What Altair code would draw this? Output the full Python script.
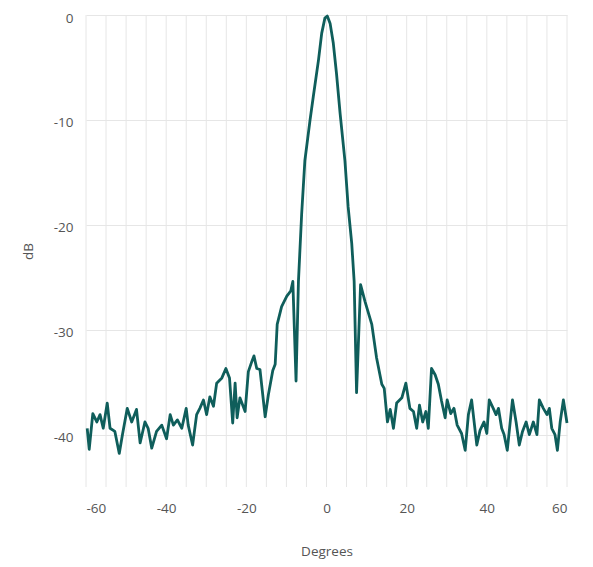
import altair as alt
import pandas as pd

degrees = [-59.7, -59.2, -58.3, -57.3, -56.5, -55.7, -54.7, -54.0, -52.8, -51.7, -50.9,
           -49.7, -48.6, -47.4, -46.5, -45.3, -44.5, -43.6, -42.4, -41.1, -39.9, -39.0,
           -38.2, -37.2, -36.1, -35.0, -34.5, -33.4, -32.4, -31.6, -30.7, -29.9, -29.1,
           -28.2, -27.4, -26.1, -25.1, -24.2, -23.4, -22.8, -22.3, -21.6, -20.3, -19.5,
           -18.6, -18.1, -17.4, -16.6, -15.3, -14.5, -13.4, -12.8, -12.3, -11.2, -9.9,
           -8.9, -8.4, -7.6, -7.0, -6.2, -5.4, -4.1, -3.3, -2.0, -1.2, -0.4, 0.2, 0.9,
           1.7, 2.5, 3.4, 4.6, 5.4, 6.3, 6.9, 7.5, 8.5, 9.6, 11.3, 12.5, 13.8, 14.4,
           15.2, 15.9, 16.7, 17.5, 18.8, 19.8, 20.8, 21.7, 22.5, 23.2, 24.0, 24.8, 25.4,
           26.2, 27.1, 27.9, 28.7, 29.6, 30.1, 31.0, 31.8, 32.6, 33.7, 34.6, 35.4, 36.2,
           37.5, 38.3, 39.3, 40.0, 40.6, 41.6, 42.3, 42.9, 43.7, 44.3, 45.1, 46.4, 47.3,
           48.1, 48.9, 49.8, 50.6, 51.6, 52.5, 53.1, 54.1, 55.0, 55.6, 56.2, 57.0, 57.6,
           58.3, 59.1, 60.0]
db = [-39.4, -41.4, -38.0, -38.8, -38.1, -39.4, -37.0, -39.4, -39.7, -41.8, -40.0,
      -37.5, -38.8, -37.6, -40.8, -38.8, -39.4, -41.3, -39.7, -39.1, -40.4, -38.1,
      -39.1, -38.6, -39.4, -37.5, -39.1, -41.0, -38.1, -37.5, -36.7, -38.1, -36.4,
      -37.3, -35.1, -34.6, -33.7, -34.6, -38.9, -35.1, -38.4, -36.5, -37.8, -34.0,
      -33.0, -32.5, -33.7, -33.8, -38.3, -36.2, -33.9, -33.3, -29.5, -27.8, -26.8,
      -26.3, -25.4, -34.9, -25.4, -19.0, -13.9, -10.0, -7.8, -4.3, -1.75, -0.3, -0.1, -0.8,
      -2.7, -5.6, -9.4, -13.9, -18.3, -21.8, -25.4, -36.0, -25.7, -27.3, -29.5, -32.7,
      -35.2, -35.6, -38.8, -37.6, -39.4, -37.0, -36.5, -35.1, -37.5, -37.8, -39.4,
      -37.2, -38.8, -37.8, -39.4, -33.7, -34.3, -35.2, -36.8, -38.4, -36.7, -38.0,
      -37.5, -39.1, -39.9, -41.5, -38.1, -36.7, -41.0, -39.6, -38.8, -39.9, -36.7,
      -37.5, -38.1, -37.5, -39.4, -40.0, -41.5, -36.7, -38.8, -41.0, -39.7, -38.8,
      -40.0, -38.8, -40.0, -36.7, -37.5, -38.1, -37.5, -39.4, -40.0, -41.5, -38.8,
      -36.7, -38.9]

df = pd.DataFrame({"Degrees": degrees, "dB": db})

x_ticks = list(range(-60, 61, 20))
x_grid = list(range(-60, 61, 5))
y_ticks = [0, -10, -20, -30, -40]

FONT = "Open Sans"
LABEL = "#555555"

grid = alt.Chart(pd.DataFrame({"g": x_grid})).mark_rule(color="#e6e6e6", strokeWidth=1).encode(
    x=alt.X("g:Q", scale=alt.Scale(domain=[-60, 60], nice=False))
)

line = alt.Chart(df).mark_line(color="#0f5e5b", strokeWidth=2.8, strokeJoin="round").encode(
    x=alt.X("Degrees:Q", title="Degrees",
            scale=alt.Scale(domain=[-60, 60], nice=False),
            axis=alt.Axis(values=x_ticks, grid=False, domain=False, ticks=False,
                          labelExpr="'' + datum.value",
                          labelPadding=14, titlePadding=30, labelFontSize=13.5,
                          titleFontSize=13.5, titleFontWeight="normal",
                          labelColor=LABEL, titleColor=LABEL,
                          labelFont=FONT, titleFont=FONT)),
    y=alt.Y("dB:Q", title="dB",
            scale=alt.Scale(domain=[-45, 0], nice=False),
            axis=alt.Axis(values=y_ticks, grid=True, gridColor="#e6e6e6",
                          labelExpr="'' + datum.value", labelOffset=3,
                          domain=False, ticks=False, labelPadding=13,
                          titlePadding=18, labelFontSize=13.5, titleFontSize=13.5,
                          titleFontWeight="normal", labelColor=LABEL,
                          titleColor=LABEL, labelFont=FONT, titleFont=FONT)),
)

chart = alt.layer(grid, line).properties(
    width=481, height=472,
    autosize=alt.AutoSizeParams(type="none"),
    padding={"left": 78, "top": 7, "right": 18, "bottom": 78},
).configure_view(stroke=None)

chart.save("out.html", embed_options={"renderer": "svg", "actions": False})
